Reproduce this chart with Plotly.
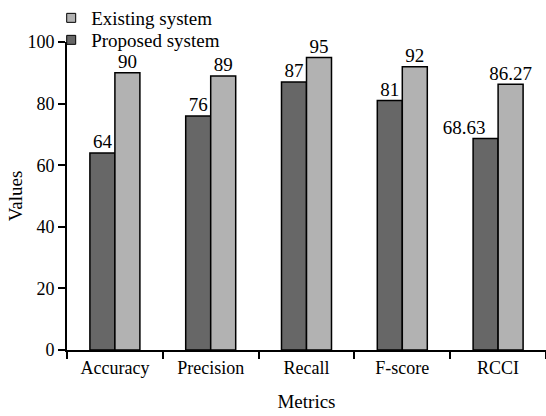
import plotly.graph_objects as go

metrics = ["Accuracy", "Precision", "Recall", "F-score", "RCCI"]
proposed = [64, 76, 87, 81, 68.63]
existing = [90, 89, 95, 92, 86.27]
proposed_labels = ["64", "76", "87", "81", "68.63"]
existing_labels = ["90", "89", "95", "92", "86.27"]

FONT = "Liberation Serif, Times New Roman, serif"
DARK = "#676767"
LIGHT = "#b2b2b2"
GAP = 0.478

fig = go.Figure()
for name, vals, col, grp in [("Proposed system", proposed, DARK, "p"),
                             ("Existing system", existing, LIGHT, "e")]:
    fig.add_trace(go.Bar(
        x=metrics, y=vals, name=name, showlegend=False, offsetgroup=grp,
        marker=dict(color=col, line=dict(color="#000000", width=1.5)),
    ))

# value labels drawn above all bars, aligned with their bar
proposed_pos = ["top center"] * 4 + ["top left"]
for vals, labels, grp, pos in [(proposed, proposed_labels, "p", proposed_pos),
                               (existing, existing_labels, "e", "top center")]:
    fig.add_trace(go.Scatter(
        x=metrics, y=vals, mode="text", text=labels, textposition=pos,
        offsetgroup=grp, showlegend=False, cliponaxis=False, hoverinfo="skip",
        textfont=dict(family=FONT, size=19, color="#000000"),
    ))

# small square legend keys, one legend per row
for name, col, lg in [("Existing system", LIGHT, "legend"),
                      ("Proposed system", DARK, "legend2")]:
    fig.add_trace(go.Scatter(
        x=[None], y=[None], mode="markers", name=name, legend=lg,
        marker=dict(symbol="square", size=9, color=col,
                    line=dict(color="#000000", width=1)),
    ))

legend_style = dict(
    xanchor="left", yanchor="middle", bgcolor="rgba(0,0,0,0)",
    font=dict(family=FONT, size=19, color="#000000"), itemwidth=30,
)

fig.update_layout(
    width=546, height=416,
    margin=dict(l=67, r=0, t=42, b=66, autoexpand=False),
    paper_bgcolor="white", plot_bgcolor="white",
    barmode="group", bargap=GAP, bargroupgap=0,
    scattermode="group", scattergap=GAP,
    font=dict(family=FONT, size=18, color="#000000"),
    legend=dict(x=-0.033, y=1.0779, **legend_style),
    legend2=dict(x=-0.033, y=1.0065, **legend_style),
    showlegend=True,
)
fig.update_xaxes(
    showline=True, linecolor="#000000", linewidth=2,
    ticks="outside", tickson="boundaries", ticklen=7, tickwidth=2,
    tickcolor="#000000", showgrid=False,
    title=dict(text="Metrics", standoff=18, font=dict(family=FONT, size=19)),
    tickfont=dict(family=FONT, size=18),
)
fig.update_yaxes(
    range=[0, 100], dtick=20, showline=True, linecolor="#000000", linewidth=2,
    ticks="outside", ticklen=7, tickwidth=2, tickcolor="#000000",
    showgrid=False, zeroline=False,
    title=dict(text="Values", standoff=0, font=dict(family=FONT, size=19)),
    tickfont=dict(family=FONT, size=18),
)

fig.write_html("out.html")
